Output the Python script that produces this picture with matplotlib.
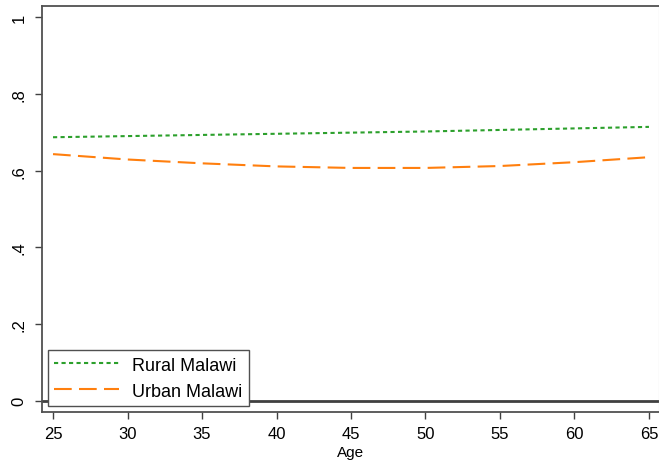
import matplotlib
matplotlib.use("Agg")
import matplotlib.pyplot as plt
import numpy as np

plt.rcParams['font.family'] = ['Liberation Sans', 'DejaVu Sans']

# values
age = [25, 30, 35, 40, 45, 50, 55, 60, 65]
rural = [0.687, 0.690, 0.693, 0.696, 0.699, 0.702, 0.706, 0.710, 0.714]
urban = [0.643, 0.629, 0.619, 0.611, 0.607, 0.607, 0.612, 0.622, 0.635]
yticks = [0, 0.2, 0.4, 0.6, 0.8, 1]
ytick_labels = ['0', '.2', '.4', '.6', '.8', '1']
xticks = [25, 30, 35, 40, 45, 50, 55, 60, 65]

fig = plt.figure(figsize=(6.59, 4.64), dpi=100)
ax = fig.add_axes([42/659, 51/464, 616.5/659, 406/464])

ax.axhline(0, color='#404040', lw=2, zorder=1)
ax.plot(age, rural, color='#2ca02c', lw=1.5, dashes=(2, 1.6), label='Rural Malawi')
ax.plot(age, urban, color='#ff7f0e', lw=1.5, dashes=(8.5, 3.5), label='Urban Malawi')

ax.set_xlim(24.26, 65.64)
ax.set_ylim(-0.029, 1.029)
ax.set_xticks(xticks)
ax.set_yticks(yticks)
ax.set_yticklabels(ytick_labels, rotation=90, va='center')
ax.tick_params(axis='both', labelsize=12, length=5, width=1, color='#404040')
ax.tick_params(axis='y', pad=6)
ax.tick_params(axis='x', pad=5)
ax.set_xlabel('Age', fontsize=11, labelpad=3)

for side in ['left', 'bottom', 'top']:
    ax.spines[side].set_color('#505050')
    ax.spines[side].set_linewidth(1.3)
ax.spines['right'].set_color('#c8c8c8')

leg = ax.legend(loc='lower left', bbox_to_anchor=(0.0097, 0.0148), borderaxespad=0,
                fontsize=13, frameon=True, fancybox=False, edgecolor='#505050',
                handlelength=3.6, handletextpad=0.7, borderpad=0.35,
                labelspacing=0.5, framealpha=1)
leg.get_frame().set_linewidth(1.0)

fig.savefig('out.png', dpi=100)
